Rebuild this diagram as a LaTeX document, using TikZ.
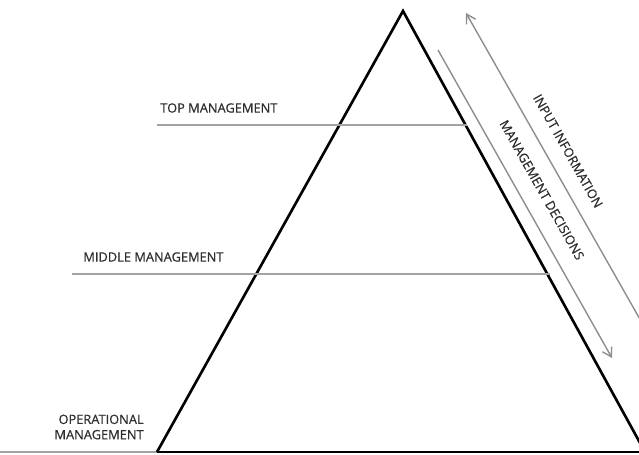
\documentclass[tikz,border=0pt]{standalone}
\usepackage{fontspec}
\setmainfont{Open Sans}
\newfontfamily\labfont{Open Sans}[FakeBold=0.5]
\usetikzlibrary{arrows.meta}
\definecolor{txt}{HTML}{2E2E2E}
\definecolor{lev}{HTML}{A3A3A3}
\definecolor{arr}{HTML}{8E8E8E}
\begin{document}
\begin{tikzpicture}[x=0.02cm,y=-0.02cm,
  pyr/.style={draw=black,line width=1.5pt,line join=miter},
  levelline/.style={draw=lev,line width=0.75pt},
  flow/.style={draw=arr,line width=0.8pt,-{Straight Barb[length=5pt,width=6pt]}},
  lbl/.style={text=txt,font=\labfont\fontsize{7.3}{8.7}\selectfont,inner sep=0pt},
  rlbl/.style={lbl,rotate=-60.6}]
\useasboundingbox (0,0) rectangle (639,454);
\fill[white] (0,0) rectangle (639,454);
\clip (0,0) rectangle (639,454);
% pyramid
\coordinate (A) at (403,11);
\coordinate (BL) at (157,452);
\coordinate (BR) at (645,452);
\coordinate (G0) at (0,452);
\coordinate (G1) at (639,452);
\draw[draw=lev,line width=0.6pt] (G0) -- (BL);
\draw[pyr,line width=1.3pt] (BL) -- (G1);
\draw[pyr] (BL) -- (A) -- (BR);
% level lines
\coordinate (T0) at (157,125);
\coordinate (T1) at (467,125);
\coordinate (M0) at (72,274);
\coordinate (M1) at (550,274);
\draw[levelline] (T0) -- (T1);
\draw[levelline] (M0) -- (M1);
% labels
\node[lbl,anchor=west] (top) at (160,108) {TOP MANAGEMENT};
\node[lbl,anchor=west] (mid) at (83,257) {MIDDLE MANAGEMENT};
\node[lbl,anchor=east,align=right] (ops) at (144,427) {OPERATIONAL\\MANAGEMENT};
% flows
\coordinate (I1) at (466,13);
\coordinate (I0) at (662,358);
\coordinate (D0) at (438,50);
\coordinate (D1) at (612,358);
\draw[flow] (I0) -- (I1);
\draw[flow] (D0) -- (D1);
\node[rlbl] (inp) at (568,151) {INPUT INFORMATION};
\node[rlbl] (dec) at (542,190) {MANAGEMENT DECISIONS};
\end{tikzpicture}
\end{document}
